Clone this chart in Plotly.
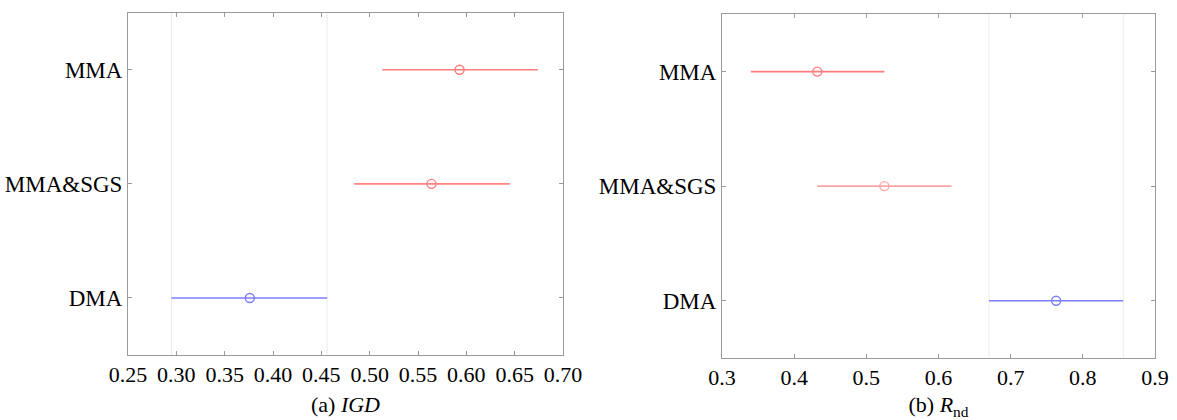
import plotly.graph_objects as go

# ---- data ----
groups = ["MMA", "MMA&SGS", "DMA"]
group_pos = [3, 2, 1]

igd_mean = [0.593, 0.564, 0.376]
igd_lo = [0.513, 0.484, 0.295]
igd_hi = [0.674, 0.645, 0.456]

rnd_mean = [0.432, 0.525, 0.763]
rnd_lo = [0.340, 0.432, 0.670]
rnd_hi = [0.525, 0.618, 0.856]

igd_colors = ["rgb(255,125,125)", "rgb(255,130,130)", "rgb(125,125,255)"]
rnd_colors = ["rgb(255,125,125)", "rgb(255,165,165)", "rgb(125,125,255)"]

igd_ticks = [0.25, 0.30, 0.35, 0.40, 0.45, 0.50, 0.55, 0.60, 0.65, 0.70]
rnd_ticks = [0.3, 0.4, 0.5, 0.6, 0.7, 0.8, 0.9]

FONT = "Liberation Serif"
AX = "#9a9a9a"

fig = go.Figure()


def add_panel(means, los, his, colors, xa, ya):
    for m, lo, hi, p, c in zip(means, los, his, group_pos, colors):
        fig.add_trace(go.Scatter(
            x=[m], y=[p], mode="markers", xaxis=xa, yaxis=ya,
            marker=dict(symbol="circle-open", size=9, color=c, line=dict(width=1.4, color=c)),
            error_x=dict(type="data", symmetric=False, array=[hi - m], arrayminus=[m - lo],
                         width=0, thickness=1.6, color=c),
            showlegend=False, hoverinfo="skip"))
    # reference lines at the interval of the selected group (DMA)
    ref = group_pos.index(1)
    for xv in (los[ref], his[ref]):
        fig.add_shape(type="line", xref=xa, yref=ya + " domain", x0=xv, x1=xv, y0=0, y1=1,
                      line=dict(color="#ececec", width=1), layer="below")


add_panel(igd_mean, igd_lo, igd_hi, igd_colors, "x", "y")
add_panel(rnd_mean, rnd_lo, rnd_hi, rnd_colors, "x2", "y2")

common_x = dict(showline=True, linecolor=AX, linewidth=1, mirror="ticks", ticks="inside",
                ticklen=4, tickcolor=AX, showgrid=False, zeroline=False, automargin=False,
                tickfont=dict(family=FONT, size=22, color="black"),
                title_font=dict(family=FONT, size=22, color="black"), title_standoff=10)
common_y = dict(showline=True, linecolor=AX, linewidth=1, mirror="ticks", ticks="inside",
                ticklen=4, tickcolor=AX, showgrid=False, zeroline=False, range=[0.5, 3.5],
                tickvals=group_pos, ticktext=groups, automargin=False,
                tickfont=dict(family=FONT, size=23, color="black"))

fig.update_layout(
    width=1177, height=420,
    margin=dict(l=0, r=0, t=0, b=0),
    paper_bgcolor="white", plot_bgcolor="white",
    xaxis=dict(common_x, domain=[128 / 1177, 563 / 1177], range=[0.25, 0.70],
               tickvals=igd_ticks, tickformat=".2f", anchor="y",
               title_text="(a) <i>IGD</i>"),
    yaxis=dict(common_y, domain=[(420 - 355) / 420, (420 - 12.7) / 420], anchor="x"),
    xaxis2=dict(common_x, domain=[722 / 1177, 1155 / 1177], range=[0.3, 0.9],
                tickvals=rnd_ticks, tickformat=".1f", anchor="y2",
                title_text="(b) <i>R</i><sub>nd</sub>"),
    yaxis2=dict(common_y, domain=[(420 - 358) / 420, (420 - 14.3) / 420], anchor="x2"),
)

fig.write_html("out.html")
